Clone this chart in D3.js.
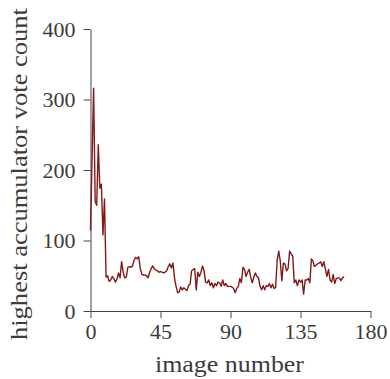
<!DOCTYPE html>
<html>
<head>
<meta charset="utf-8">
<script src="https://cdn.jsdelivr.net/npm/d3@7/dist/d3.min.js"></script>
<style>
  html, body { margin: 0; padding: 0; background: #fff; }
  svg { display: block; }
</style>
</head>
<body>
<svg id="chart" width="390" height="379"></svg>
<script>
// Highest Hough accumulator vote per image, images 0..163
const voteCounts = [
  114, 215, 316, 155, 150, 236, 174, 180, 108, 159,
  48, 50, 42, 44, 49, 46, 41, 45, 54, 47,
  70, 55, 47, 48, 62, 63, 62, 64, 72, 76,
  74, 77, 60, 52, 51, 51, 50, 47, 55, 60,
  64, 60, 58, 57, 55, 56, 55, 54, 55, 57,
  63, 67, 61, 68, 47, 35, 26, 27, 34, 30,
  33, 31, 29, 36, 38, 57, 59, 60, 30, 55,
  49, 55, 64, 57, 41, 40, 44, 36, 40, 33,
  39, 36, 41, 40, 35, 44, 36, 39, 35, 35,
  35, 34, 32, 26, 32, 35, 46, 40, 62, 59,
  49, 55, 59, 48, 40, 48, 54, 49, 47, 35,
  30, 36, 30, 36, 35, 39, 33, 38, 32, 33,
  72, 85, 71, 43, 68, 67, 57, 60, 85, 81,
  78, 40, 44, 36, 44, 41, 44, 24, 44, 44,
  46, 40, 74, 71, 63, 65, 67, 68, 70, 63,
  70, 59, 49, 59, 44, 41, 52, 39, 46, 47,
  47, 43, 47, 49
];
const imageNumbers = voteCounts.map((_, i) => i);

const xTicks = [0, 45, 90, 135, 180];
const yTicks = [0, 100, 200, 300, 400];
const xLabel = "image number";
const yLabel = "highest accumulator vote count";

const serif = "Liberation Serif";
const textColor = "#3c3c3c";

const margin = { left: 90.5, top: 29, right: 19.5, bottom: 68 };
const svg = d3.select("#chart");
const W = +svg.attr("width"), H = +svg.attr("height");
const innerW = W - margin.left - margin.right;
const innerH = H - margin.top - margin.bottom;

const x = d3.scaleLinear().domain([0, 180]).range([0, innerW]);
const y = d3.scaleLinear().domain([0, 400]).range([innerH, 0]);

const g = svg.append("g").attr("transform", `translate(${margin.left},${margin.top})`);

// axes
const xAxis = g.append("g")
  .attr("transform", `translate(0,${innerH})`)
  .call(d3.axisBottom(x).tickValues(xTicks).tickSize(7).tickSizeOuter(0).tickPadding(5));
const yAxis = g.append("g")
  .call(d3.axisLeft(y).tickValues(yTicks).tickSize(7).tickSizeOuter(0).tickPadding(8));

[xAxis, yAxis].forEach(a => {
  a.attr("font-family", serif).attr("font-size", 22);
  a.select(".domain").attr("stroke", "#444").attr("stroke-width", 1);
  a.selectAll(".tick line").attr("stroke", "#444").attr("stroke-width", 1);
  a.selectAll(".tick text").attr("fill", textColor);
});

// series line
const line = d3.line()
  .x((d, i) => x(imageNumbers[i]))
  .y(d => y(d));

g.append("path")
  .datum(voteCounts)
  .attr("fill", "none")
  .attr("stroke", "#821818")
  .attr("stroke-width", 1.4)
  .attr("stroke-linejoin", "round")
  .attr("d", line);

// axis titles
svg.append("text")
  .attr("x", margin.left + innerW / 2 - 1)
  .attr("y", 372)
  .attr("text-anchor", "middle")
  .attr("font-family", serif)
  .attr("font-size", 23)
  .attr("fill", textColor)
  .attr("textLength", 149)
  .attr("lengthAdjust", "spacingAndGlyphs")
  .text(xLabel);

svg.append("text")
  .attr("transform", `translate(27,${174}) rotate(-90)`)
  .attr("text-anchor", "middle")
  .attr("font-family", serif)
  .attr("font-size", 23)
  .attr("fill", textColor)
  .attr("textLength", 332)
  .attr("lengthAdjust", "spacingAndGlyphs")
  .text(yLabel);
</script>
</body>
</html>
